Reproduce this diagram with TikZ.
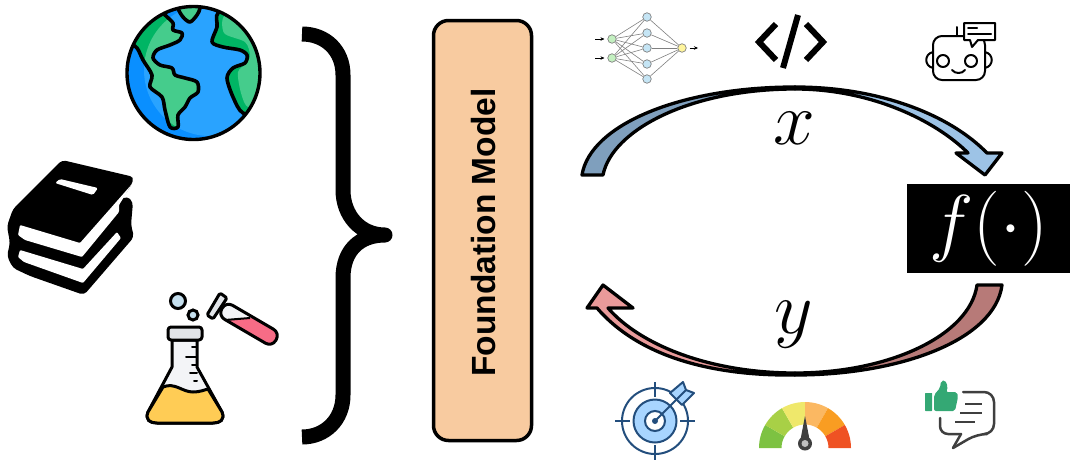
\documentclass[tikz,border=0pt]{standalone}
\usepackage{fix-cm}
\usepackage{fontspec}
\usetikzlibrary{arrows.meta, positioning}
\newfontfamily\modelfont{Liberation Sans}
\definecolor{peach}{RGB}{248, 203, 160}
\definecolor{oceanlight}{RGB}{41, 163, 255}
\definecolor{oceandark}{RGB}{10, 143, 255}
\definecolor{landlight}{RGB}{69, 204, 140}
\definecolor{landdark}{RGB}{0, 181, 100}
\definecolor{glassgray}{RGB}{243, 244, 247}
\definecolor{lipgray}{RGB}{225, 228, 232}
\definecolor{liquidyellow}{RGB}{255, 204, 85}
\definecolor{bubbleblue}{RGB}{197, 223, 238}
\definecolor{tubepink}{RGB}{247, 108, 134}
\definecolor{flowbluedark}{RGB}{127, 159, 189}
\definecolor{flowbluelight}{RGB}{157, 195, 230}
\definecolor{flowreddark}{RGB}{183, 122, 120}
\definecolor{flowredlight}{RGB}{233, 154, 154}
\definecolor{targetblue}{RGB}{35, 78, 125}
\definecolor{targetfill}{RGB}{168, 213, 255}
\definecolor{thumbgreen}{RGB}{52, 168, 116}
\definecolor{chatgray}{RGB}{63, 63, 63}
\definecolor{gaugea}{RGB}{125, 194, 66}
\definecolor{gaugeb}{RGB}{168, 208, 70}
\definecolor{gaugec}{RGB}{239, 232, 107}
\definecolor{gauged}{RGB}{251, 184, 98}
\definecolor{gaugee}{RGB}{249, 157, 34}
\definecolor{gaugef}{RGB}{239, 82, 35}
\definecolor{nngreen}{RGB}{195, 240, 192}
\definecolor{nnblue}{RGB}{197, 229, 245}
\definecolor{nnyellow}{RGB}{255, 245, 157}
\tikzset{
    modelbox/.style={draw, line width=3.5pt, fill=peach, rounded corners=15pt, minimum width=98pt, minimum height=420pt, inner sep=0},
    funcbox/.style={fill=black, text=white, minimum width=163pt, minimum height=89pt, inner sep=0, font=\fontsize{75}{75}\selectfont},
    biglabel/.style={inner sep=0, font=\fontsize{75}{75}\selectfont},
    flowline/.style={draw, line width=3.3pt, line join=round},
    nnnode/.style={circle, draw=gray, line width=0.7pt, minimum size=8.5pt, inner sep=0},
    nnline/.style={gray, line width=0.6pt},
    nntip/.style={-{Stealth[length=4pt, width=3.5pt]}, line width=0.5pt},
    inkline/.style={line width=3pt, line join=round, line cap=round},
    landline/.style={line width=3.6pt, line join=round, line cap=round},
    iconline/.style={line width=2pt, line join=round, line cap=round}
}
\begin{document}
\begin{tikzpicture}[x=1pt, y=-1pt]
\useasboundingbox (0,0) rectangle (1070,461);

% Globe
\begin{scope}
    \clip (193.5,73) circle (67pt);
    \fill[oceandark] (193.5,73) circle (67pt);
    \fill[oceanlight] (210,70) circle (66pt);
    % Left continent
    \begin{scope}
        \clip plot[smooth cycle] coordinates {(165,15) (173,23) (173,30) (182,33) (180,40) (170,45) (157,50) (153,58) (160,65) (172,68) (175,75) (185,78) (197,82) (198,92) (190,98) (185,107) (178,115) (178,127) (170,127) (165,110) (162,97) (150,87) (152,75) (143,60) (137,48) (125,35) (140,5) (155,5)};
        \fill[landdark] (120,0) rectangle (210,140);
        \fill[landlight] (210,70) circle (66pt);
    \end{scope}
    \draw[landline] plot[smooth cycle] coordinates {(165,15) (173,23) (173,30) (182,33) (180,40) (170,45) (157,50) (153,58) (160,65) (172,68) (175,75) (185,78) (197,82) (198,92) (190,98) (185,107) (178,115) (178,127) (170,127) (165,110) (162,97) (150,87) (152,75) (143,60) (137,48) (125,35) (140,5) (155,5)};
    % Top continent
    \draw[landline, fill=landlight] plot[smooth cycle] coordinates {(178,8) (183,17) (190,22) (197,15) (200,8) (200,-5) (178,-5)};
    % Right continent
    \begin{scope}
        \clip plot[smooth cycle] coordinates {(218,13) (217,27) (212,42) (223,47) (240,50) (247,55) (245,63) (233,68) (227,78) (233,97) (243,113) (265,113) (275,60) (240,5)};
        \fill[landdark] (205,0) rectangle (270,120);
        \fill[landlight] plot[smooth cycle] coordinates {(227,15) (224,33) (245,42) (250,55) (247,63) (238,72) (241,93) (248,107) (265,100) (270,40)};
    \end{scope}
    \draw[landline] plot[smooth cycle] coordinates {(218,13) (217,27) (212,42) (223,47) (240,50) (247,55) (245,63) (233,68) (227,78) (233,97) (243,113) (265,113) (275,60) (240,5)};
\end{scope}
\draw[line width=3.4pt] (193.5,73) circle (66.5pt);

% Books
\fill[black, rounded corners=4pt] (62,160) -- (134,177) -- (131,186) -- (121,200) -- (127,196) -- (133,202) -- (131,225) -- (134,237) -- (84,295) -- (30,276) -- (13,268) -- (7,256) -- (10,243) -- (7,226) -- (13,209) -- cycle;
\fill[white, rounded corners=1.5pt] (55,183) -- (60,179) -- (98,188) -- (93,195) -- cycle;
\fill[white, rounded corners=1pt] (20,225) -- (80,243) -- (132,184) -- (119,205) -- (119,212) -- (82,257) -- (25,240) -- (18,235) -- cycle;
\fill[white, rounded corners=1pt] (20,250) -- (83,269) -- (117,232) -- (121,238) -- (83,283) -- (24,262) -- (18,257) -- cycle;

% Flask
\draw[inkline, fill=glassgray] (172,340) -- (172,367) -- (148,412) .. controls (145,420) and (150,423) .. (157,423) -- (213,423) .. controls (220,423) and (225,420) .. (222,412) -- (197,367) -- (197,340) -- cycle;
\draw[inkline, fill=liquidyellow] (163,387) .. controls (175,382) and (182,392) .. (193,392) .. controls (200,392) and (204,390) .. (208,389) -- (222,412) .. controls (225,420) and (220,423) .. (213,423) -- (157,423) .. controls (150,423) and (145,420) .. (148,412) -- cycle;
\draw[inkline, fill=lipgray, rounded corners=3pt] (168,327) rectangle (202,340);
\foreach \ya/\xa in {347/192, 357/186, 365/192, 373/190, 381/194} {
    \draw[line width=2pt, line cap=round] (\xa,\ya) -- (197,\ya);
}
% Bubbles
\draw[line width=3pt, fill=bubbleblue] (178,301) circle (7.5pt);
\draw[line width=3pt, fill=bubbleblue] (193,315) circle (5pt);
% Test tube
\begin{scope}
    \clip[rounded corners=7.5pt] (226,301.5) -- (280,333) -- (272,347) -- (218,315.5) -- cycle;
    \fill[glassgray] (210,290) rectangle (285,350);
    \fill[tubepink] (225,320) -- (252,318) -- (285,318) -- (285,350) -- (225,350) -- cycle;
\end{scope}
\draw[line width=2pt] (225,320) -- (250,318);
\draw[inkline, rounded corners=7.5pt] (226,301.5) -- (280,333) -- (272,347) -- (218,315.5) -- cycle;
\draw[inkline, fill=lipgray, rounded corners=1.5pt] (220,293) -- (227,298) -- (213,319) -- (207,315) -- cycle;

% Brace
\draw[line width=15pt, line join=round] (302,34) .. controls (325,34) and (343,50) .. (343,75) -- (343,190) .. controls (343,215) and (360,235) .. (385,235) .. controls (360,235) and (343,250) .. (343,278) -- (343,395) .. controls (343,420) and (325,437) .. (302,437);

% Foundation model
\node[modelbox] (model) at (482.5,230.5) {};
\node[rotate=90, inner sep=0, font=\modelfont\bfseries\fontsize{33.5}{33.5}\selectfont] (modeltext) at (484,232.5) {Foundation Model};

% Function box
\node[funcbox] (func) at (988.5,228.5) {$f(\cdot)$};

% Input arrow
\draw[flowline, fill=flowbluedark] (582,175) .. controls (590,125) and (680,87) .. (795,87) -- (795,89) .. controls (690,89) and (612,130) .. (603,175) -- cycle;
\draw[flowline, fill=flowbluelight] (795,87) .. controls (880,87) and (950,115) .. (987,153) -- (1002,153) -- (985,175) -- (956,153) -- (968,153) .. controls (935,120) and (870,89) .. (795,89) -- cycle;
\node[biglabel] (xlabel) at (794,128) {$x$};

% Output arrow
\draw[flowline, fill=flowreddark] (1002,285) .. controls (995,340) and (900,375) .. (795,375) -- (795,373) .. controls (890,373) and (970,335) .. (977,285) -- cycle;
\draw[flowline, fill=flowredlight] (795,375) .. controls (715,376) and (640,358) .. (597,308) -- (587,308) -- (603,285) -- (633,308) -- (608,308) .. controls (640,345) and (710,373) .. (795,373) -- cycle;
\node[biglabel] (ylabel) at (794,325) {$y$};

% Network icon
\foreach \i/\ya in {1/39, 2/58} {
    \node[nnnode, fill=nngreen] (in\i) at (612,\ya) {};
    \coordinate (instart\i) at (595,\ya);
    \draw[nntip, shorten >=3pt] (instart\i) -- (in\i);
}
\foreach \j/\ya in {1/17, 2/33, 3/48, 4/64, 5/79} {
    \node[nnnode, fill=nnblue] (mid\j) at (647,\ya) {};
}
\node[nnnode, fill=nnyellow] (out) at (682,48) {};
\coordinate (outend) at (698,48);
\draw[nntip, shorten <=3pt] (out) -- (outend);
\foreach \j in {1,...,5} {
    \draw[nnline] (in1) -- (mid\j);
    \draw[nnline] (in2) -- (mid\j);
    \draw[nnline] (mid\j) -- (out);
}

% Code icon
\draw[line width=6pt, line join=miter] (776,24) -- (759,42) -- (776,60);
\draw[line width=6pt, line join=miter] (806,24) -- (823,42) -- (806,60);
\draw[line width=6pt] (798,15) -- (783,68);

% Robot icon
\draw[iconline] (933,52) .. controls (924,54) and (924,66) .. (933,68);
\draw[iconline] (985,52) .. controls (994,54) and (994,66) .. (985,68);
\draw[iconline, fill=white, rounded corners=9pt] (933,36) rectangle (985,80);
\draw[iconline] (957,27) -- (957,36);
\draw[iconline] (943,61) circle (6pt);
\draw[iconline] (971,61) circle (6pt);
\draw[iconline] (952,70) .. controls (955,74) and (962,74) .. (965,70);
\draw[iconline, fill=white] (964,23) -- (995,23) -- (995,40) -- (978,40) -- (972,47) -- (970,40) -- (964,40) -- cycle;
\draw[iconline] (968,28) -- (977,28);
\draw[iconline] (968,34) -- (991,34);

% Target icon
\draw[targetblue, line width=2pt] (655,421) circle (33pt);
\draw[targetblue, line width=2pt, fill=targetfill] (655,421) circle (21.5pt);
\draw[targetblue, line width=2pt, fill=white] (655,421) circle (10pt);
\fill[targetblue] (655,421) circle (3pt);
\foreach \xa/\ya/\xb/\yb in {655/382/655/397, 655/445/655/460, 615/421/630/421, 680/421/695/421} {
    \draw[targetblue, line width=2pt] (\xa,\ya) -- (\xb,\yb);
}
\draw[targetblue, line width=2pt, line join=round, fill=targetfill] (670,393) -- (683,382) -- (686,390) -- (694,393) -- (682,405) -- cycle;
\draw[targetblue, line width=2pt] (655,421) -- (686,390);

% Gauge icon
\begin{scope}[shift={(805,448)}, y=1pt]
    \foreach \a/\b/\c in {180/150/gaugea, 150/120/gaugeb, 120/90/gaugec, 90/60/gauged, 60/30/gaugee, 30/0/gaugef} {
        \fill[\c] (\a:46pt) arc[start angle=\a, end angle=\b, radius=46pt] -- (\b:23.5pt) arc[start angle=\b, end angle=\a, radius=23.5pt] -- cycle;
    }
    \fill[chatgray] (0pt,32pt) -- (5pt,6pt) -- (-5pt,6pt) -- cycle;
    \fill[chatgray] (0pt,4.5pt) circle (7pt);
    \fill[lightgray] (0pt,4.5pt) circle (3.5pt);
\end{scope}

% Feedback icon
\fill[thumbgreen, rounded corners=0.5pt] (925,393) rectangle (932,411);
\fill[thumbgreen, rounded corners=2pt] (934,411) -- (934,395) -- (940,388) -- (941,381) -- (945,380) -- (948,387) -- (946,392) -- (957,392) -- (958,397) -- (955,411) -- cycle;
\draw[chatgray, line width=2.5pt, rounded corners=10pt, line join=round, line cap=round] (963,392) -- (994,392) -- (994,434) -- (977,434) -- (953,448);
\draw[chatgray, line width=2.5pt, rounded corners=8pt, line join=round, line cap=round] (940,418) -- (940,434) -- (961,434);
\draw[chatgray, line width=2.5pt, line join=round, line cap=round] (961,434) -- (953,448);
\foreach \xa/\xb/\ya in {965/982/404, 960/982/413, 955/975/422} {
    \draw[chatgray, line width=2pt] (\xa,\ya) -- (\xb,\ya);
}

\end{tikzpicture}
\end{document}
